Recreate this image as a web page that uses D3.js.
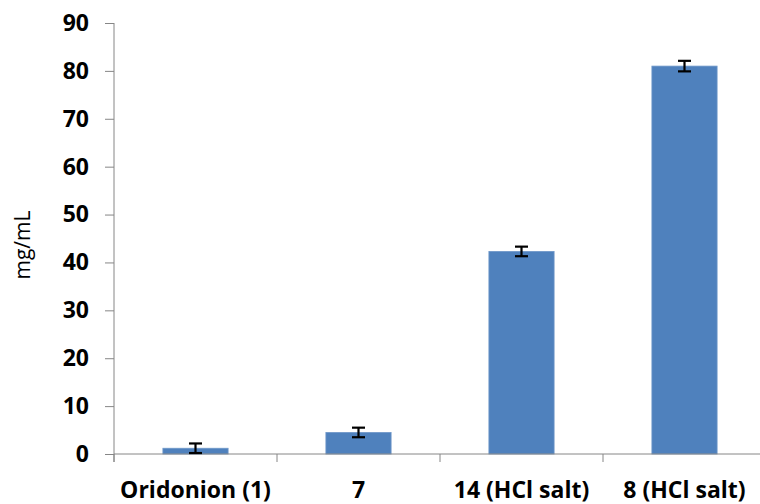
<!DOCTYPE html>
<html><head><meta charset="utf-8">
<script src="https://cdn.jsdelivr.net/npm/d3@7"></script>
<style>body{margin:0;background:#fff}svg{display:block}</style>
</head><body><svg id="c" width="760" height="504"></svg>
<script>
const categories = ["Oridonion (1)", "7", "14 (HCl salt)", "8 (HCl salt)"];
const values = [1.2, 4.5, 42.3, 81.0];
const errors = [1.0, 1.0, 1.0, 1.1];
const yTicks = [0, 10, 20, 30, 40, 50, 60, 70, 80, 90];
const yLabel = "mg/mL";

const svg = d3.select("#c");
const x0 = 114, x1 = 766, yBottom = 454, yTop = 23;
const font = "'Open Sans', Lato, sans-serif";
const x = d3.scaleBand().domain(categories).range([x0, x1]).paddingInner(0.6).paddingOuter(0.3);
const y = d3.scaleLinear().domain([0, 90]).range([yBottom, yTop]);
const axisColor = "#868686";

// y axis
const ya = svg.append("g").attr("transform", `translate(${x0},0)`)
  .call(d3.axisLeft(y).tickValues(yTicks).tickSize(9).tickPadding(16));
ya.select(".domain").attr("stroke", axisColor).attr("d", `M0,${yTop}V${yBottom+8}`);
ya.selectAll(".tick line").attr("stroke", axisColor);
ya.selectAll(".tick text").attr("font-family", font).attr("font-weight", "bold")
  .attr("font-size", 23).attr("fill", "#000");

// bars
svg.append("g").selectAll("rect").data(categories).join("rect")
  .attr("x", d => x(d)).attr("width", x.bandwidth())
  .attr("y", (d, i) => y(values[i])).attr("height", (d, i) => y(0) - y(values[i]))
  .attr("fill", "#4F81BD").attr("stroke", "#6f97c9").attr("stroke-width", 0.8);

// x axis
svg.append("line").attr("x1", x0).attr("x2", x1).attr("y1", y(0)).attr("y2", y(0))
  .attr("stroke", axisColor);
const bounds = categories.map(d => x(d) - x.step() * x.paddingInner() / 2);
svg.append("g").selectAll("line").data(bounds).join("line")
  .attr("x1", d => d).attr("x2", d => d).attr("y1", y(0)).attr("y2", y(0) + 8)
  .attr("stroke", axisColor);
svg.append("g").selectAll("text").data(categories).join("text")
  .attr("x", d => x(d) + x.bandwidth() / 2).attr("y", 498)
  .attr("text-anchor", "middle").attr("font-family", font).attr("font-weight", "bold")
  .attr("font-size", 23).text(d => d);

// error bars
const eb = svg.append("g").attr("stroke", "#000").attr("stroke-width", 2.2);
categories.forEach((d, i) => {
  const cx = x(d) + x.bandwidth() / 2;
  const hi = y(values[i] + errors[i]), lo = y(values[i] - errors[i]);
  eb.append("line").attr("x1", cx).attr("x2", cx).attr("y1", hi).attr("y2", lo);
  eb.append("line").attr("x1", cx - 6.5).attr("x2", cx + 6.5).attr("y1", hi).attr("y2", hi);
  eb.append("line").attr("x1", cx - 6.5).attr("x2", cx + 6.5).attr("y1", lo).attr("y2", lo);
});

// y label
svg.append("text").attr("transform", `translate(30,245) rotate(-90)`)
  .attr("text-anchor", "middle").attr("font-family", font).attr("font-size", 21)
  .attr("font-weight", 500).text(yLabel);
</script></body></html>
